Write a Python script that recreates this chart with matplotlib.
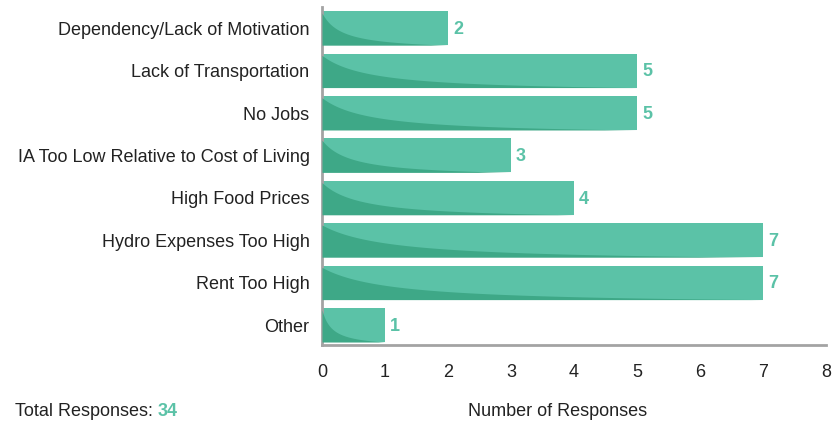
import matplotlib
matplotlib.use("Agg")
import matplotlib.pyplot as plt
import numpy as np

categories = ["Dependency/Lack of Motivation", "Lack of Transportation", "No Jobs",
              "IA Too Low Relative to Cost of Living", "High Food Prices",
              "Hydro Expenses Too High", "Rent Too High", "Other"]
values = [2, 5, 5, 3, 4, 7, 7, 1]
total_responses = 34
xticks = [0, 1, 2, 3, 4, 5, 6, 7, 8]

LIGHT = "#5bc2a7"
DARK = "#3ea887"
GRAY = "#a3a3a3"
TXT = "#222222"

fig = plt.figure(figsize=(8.35, 4.23), dpi=100)
ax = fig.add_axes([322/835, 1-345/423, (826-322)/835, (345-7)/423])

ypos = np.arange(len(categories))
bars = ax.barh(ypos, values, height=0.8, color=LIGHT, zorder=2)

# darker curved shading in lower-left of each bar
for b in bars:
    x0, w = b.get_x(), b.get_width()
    yb, h = b.get_y(), b.get_height()
    t = np.linspace(0, 1, 300)
    f = 0.95 * (1 - t) / (1 + 6.5 * t)
    xs = x0 + t * w
    bottom_edge = yb + h  # visually bottom (axis inverted)
    ax.fill_between(xs, bottom_edge, bottom_edge - f * h, color=DARK, lw=0, zorder=3)
    ax.text(x0 + w + 0.08, yb + h/2 + 0.03, str(int(w)), va="center", ha="left",
            fontsize=13, fontweight="bold", color=LIGHT, family="Liberation Sans")

ax.set_xlim(0, 8)
ax.set_ylim(7.47, -0.5)
ax.set_yticks(ypos)
ax.set_yticklabels(categories, fontsize=13, color=TXT, family="Liberation Sans")
ax.set_xticks(xticks)
ax.set_xticklabels([str(v) for v in xticks], fontsize=13, color=TXT,
                   family="Liberation Sans")
ax.tick_params(axis="both", length=0)
ax.tick_params(axis="x", pad=14)
ax.tick_params(axis="y", pad=9)
for s in ["top", "right"]:
    ax.spines[s].set_visible(False)
for s in ["left", "bottom"]:
    ax.spines[s].set_color(GRAY)
    ax.spines[s].set_linewidth(2)
ax.set_facecolor("white")

t1 = fig.text(15/835, 1-411/423, "Total Responses: ", fontsize=13, color=TXT,
              va="center", ha="left", family="Liberation Sans")
fig.canvas.draw()
bb = t1.get_window_extent(renderer=fig.canvas.get_renderer())
fig.text(bb.x1/fig.bbox.width, 1-411/423, str(total_responses), fontsize=13,
         fontweight="bold", color=LIGHT, va="center", ha="left",
         family="Liberation Sans")
fig.text(558/835, 1-411/423, "Number of Responses", fontsize=13, color=TXT,
         va="center", ha="center", family="Liberation Sans")

fig.savefig("out.png", dpi=100, facecolor="white")
